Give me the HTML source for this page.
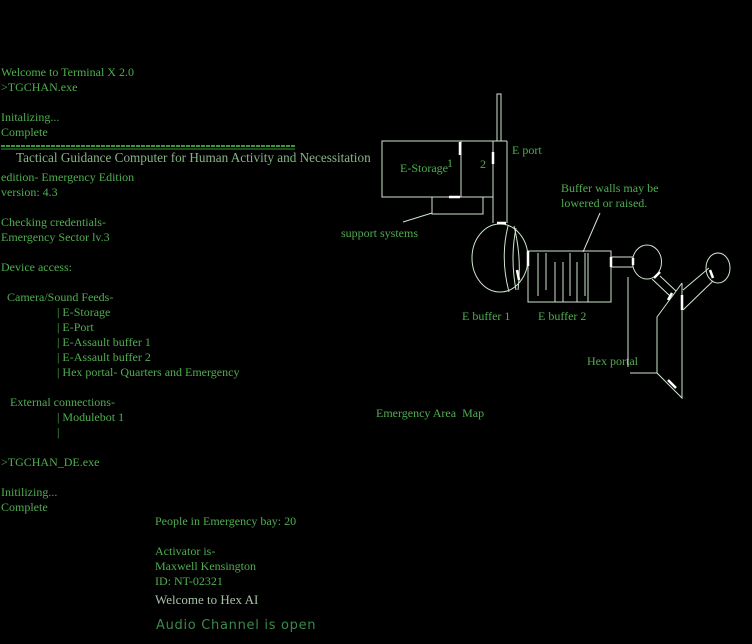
<!DOCTYPE html>
<html><head><style>
body{margin:0;width:752px;height:644px;background:#000;overflow:hidden;position:relative;font-family:"Liberation Serif",serif;font-size:12px;color:#4fae4f}
.t{position:absolute;white-space:nowrap;line-height:14px}
svg{position:absolute;left:0;top:0}
</style></head><body>
<div class="t" style="left:1px;top:65px">Welcome to Terminal X 2.0</div>
<div class="t" style="left:1px;top:80px">&gt;TGCHAN.exe</div>
<div class="t" style="left:1px;top:110px">Initalizing...</div>
<div class="t" style="left:1px;top:125px">Complete</div>
<div class="t" style="left:16px;top:151px;font-size:13.2px;color:#86b486">Tactical Guidance Computer for Human Activity and Necessitation</div>
<div class="t" style="left:1px;top:170px">edition- Emergency Edition</div>
<div class="t" style="left:1px;top:185px">version: 4.3</div>
<div class="t" style="left:1px;top:215px">Checking credentials-</div>
<div class="t" style="left:1px;top:230px">Emergency Sector lv.3</div>
<div class="t" style="left:1px;top:260px">Device access:</div>
<div class="t" style="left:7px;top:290px">Camera/Sound Feeds-</div>
<div class="t" style="left:57px;top:305px">| E-Storage</div>
<div class="t" style="left:57px;top:320px">| E-Port</div>
<div class="t" style="left:57px;top:335px">| E-Assault buffer 1</div>
<div class="t" style="left:57px;top:350px">| E-Assault buffer 2</div>
<div class="t" style="left:57px;top:365px">| Hex portal- Quarters and Emergency</div>
<div class="t" style="left:10px;top:395px">External connections-</div>
<div class="t" style="left:57px;top:410px">| Modulebot 1</div>
<div class="t" style="left:57px;top:425px">|</div>
<div class="t" style="left:1px;top:455px">&gt;TGCHAN_DE.exe</div>
<div class="t" style="left:1px;top:485px">Initilizing...</div>
<div class="t" style="left:1px;top:500px">Complete</div>
<div class="t" style="left:155px;top:514px">People in Emergency bay: 20</div>
<div class="t" style="left:155px;top:544px">Activator is-</div>
<div class="t" style="left:155px;top:559px">Maxwell Kensington</div>
<div class="t" style="left:155px;top:574px">ID: NT-02321</div>
<div class="t" style="left:155px;top:593px;font-size:13px;color:#a8c0a8">Welcome to Hex AI</div>
<div class="t" style="left:156px;top:619px;font-family:'DejaVu Sans',sans-serif;font-size:13px;color:#3a8a4a;letter-spacing:0.7px">Audio Channel is open</div>

<div class="t" style="left:400px;top:161px">E-Storage</div>
<div class="t" style="left:447px;top:156px">1</div>
<div class="t" style="left:480px;top:157px">2</div>
<div class="t" style="left:512px;top:143px">E port</div>
<div class="t" style="left:341px;top:226px">support systems</div>
<div class="t" style="left:561px;top:181px">Buffer walls may be</div>
<div class="t" style="left:561px;top:196px">lowered or raised.</div>
<div class="t" style="left:462px;top:309px">E buffer 1</div>
<div class="t" style="left:538px;top:309px">E buffer 2</div>
<div class="t" style="left:587px;top:354px">Hex portal</div>
<div class="t" style="left:376px;top:406px">Emergency Area&nbsp; Map</div>

<svg width="752" height="644" fill="none" stroke="#cfe6cf" stroke-width="1">
<line x1="1" y1="146" x2="295" y2="146" stroke="#3a9a3a" stroke-width="2" stroke-dasharray="4,1"/>
<line x1="1" y1="149" x2="295" y2="149" stroke="#3a9a3a" stroke-width="1"/>
<rect x="497" y="94" width="4" height="47"/>
<rect x="382" y="141" width="111" height="56"/>
<line x1="493" y1="141" x2="507" y2="141"/>
<line x1="461" y1="141" x2="461" y2="197"/>
<line x1="493" y1="141" x2="493" y2="223"/>
<line x1="507" y1="141" x2="507" y2="223"/>
<rect x="432" y="197" width="51" height="17"/>
<line x1="403" y1="222" x2="432" y2="213"/>
<ellipse cx="500" cy="258" rx="28" ry="34"/>
<path d="M508 226 Q500 258 509 292 M516 228 Q510 258 516 290 M514 226 Q522 258 518 290"/>
<rect x="528" y="251" width="83" height="51"/>
<path d="M538 253 V296 M546 253 V290 M555 262 V302 M563 262 V302 M570 253 V296 M577 262 V302 M585 253 V296 M588 253 V302"/>
<line x1="583" y1="252" x2="600" y2="213"/>
<rect x="611" y="257" width="22" height="10"/>
<ellipse cx="647" cy="262" rx="14.5" ry="17"/>
<ellipse cx="718" cy="268" rx="12" ry="15"/>
<path d="M682 283 V398 L657 373 V317 L682 283"/>
<path d="M652 279 L670 296 M660 276 L676 291"/>
<path d="M683 290 L709 268 M683 310 L713 281"/>
<line x1="628" y1="277" x2="628" y2="367"/>
<line x1="630" y1="373" x2="657" y2="373"/>
<g stroke="#fff" stroke-width="2.5">
<line x1="460" y1="142" x2="460" y2="155"/><line x1="493" y1="152" x2="493" y2="164"/>
<line x1="449" y1="197" x2="460" y2="197"/><line x1="497" y1="223" x2="506" y2="223"/>
<line x1="528" y1="251" x2="528" y2="266"/><line x1="517" y1="270" x2="519" y2="280"/>
<line x1="611" y1="257" x2="611" y2="267"/><line x1="633" y1="258" x2="633" y2="265"/>
<line x1="654" y1="278" x2="660" y2="272"/><line x1="668" y1="300" x2="672" y2="293"/>
<line x1="682" y1="295" x2="682" y2="310"/><line x1="710" y1="270" x2="713" y2="278"/>
<line x1="668" y1="380" x2="676" y2="388"/>
</g>
</svg>
</body></html>
